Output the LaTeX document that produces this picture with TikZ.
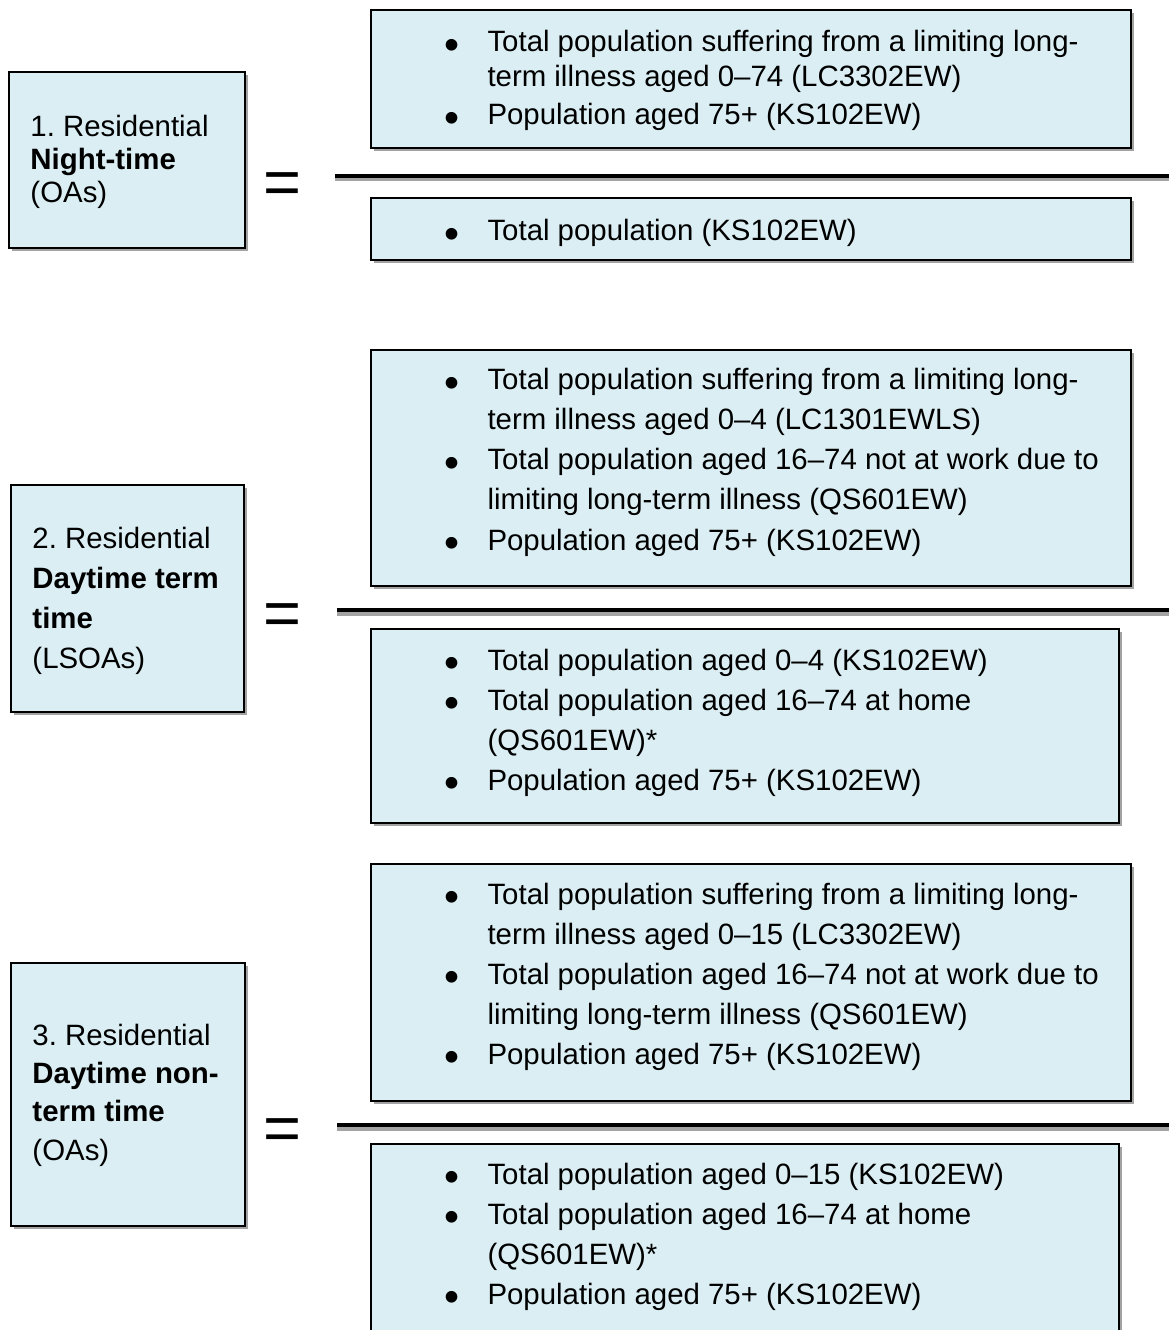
\documentclass[tikz,border=0pt]{standalone}
\usepackage{fontspec}
\setmainfont{Liberation Sans}
\usetikzlibrary{shadows,fit}
\definecolor{boxfill}{HTML}{DAEEF3}
\definecolor{shadowgray}{HTML}{A3A3A3}
\newcommand\bul{\raisebox{-2.9pt}{\scalebox{1.46}{\textbullet}}}
\frenchspacing
\begin{document}
\begin{tikzpicture}[x=0.4pt,y=-0.4pt,
  panel/.style={draw=black, line width=0.8pt, fill=boxfill, inner sep=0pt,
     general shadow={fill=shadowgray, shadow xshift=1.2pt, shadow yshift=-1.2pt}},
  lefttext/.style={anchor=base west, inner sep=0pt, align=left},
  item/.style={anchor=base west, inner sep=0pt, font=\fontsize{11.76}{16}\selectfont},
  rulesh/.style={line width=1.6pt, shadowgray},
  rulebk/.style={line width=1.6pt, black},
  eqsign/.style={anchor=base, inner sep=0pt, font=\fontsize{26}{26}\selectfont}
]
\useasboundingbox (0,0) rectangle (1169,1330);
\clip (0,0) rectangle (1169,1330);

% ---------- left boxes ----------
\node[panel, fit={(9,72)(245,248)}] (L1) {};
\node[panel, fit={(11,485)(244,712)}] (L2) {};
\node[panel, fit={(11,963)(245,1226)}] (L3) {};
% (anchor = baseline of the last line)
\node[lefttext, font=\fontsize{11.76}{13.2}\selectfont] (L1t) at (30,203)
  {1. Residential\\\textbf{Night-time}\\(OAs)};
\node[lefttext, font=\fontsize{11.76}{15.9}\selectfont] (L2t) at (32,668)
  {2. Residential\\\textbf{Daytime term}\\\textbf{time}\\(LSOAs)};
\node[lefttext, font=\fontsize{11.76}{15.3}\selectfont] (L3t) at (32,1160)
  {3. Residential\\\textbf{Daytime non-}\\\textbf{term time}\\(OAs)};

% ---------- equal signs ----------
\node[eqsign] (E1) at (282,205) {=};
\node[eqsign] (E2) at (282,635) {=};
\node[eqsign] (E3) at (282,1150) {=};

% ---------- fraction bars ----------
\coordinate (F1a) at (335,176); \coordinate (F1b) at (1169,176);
\coordinate (F2a) at (337,610); \coordinate (F2b) at (1169,610);
\coordinate (F3a) at (337,1125); \coordinate (F3b) at (1169,1125);
\draw[rulesh] ([yshift=-1.4pt]F1a) -- ([yshift=-1.4pt]F1b);
\draw[rulebk] (F1a) -- (F1b);
\draw[rulesh] ([yshift=-1.4pt]F2a) -- ([yshift=-1.4pt]F2b);
\draw[rulebk] (F2a) -- (F2b);
\draw[rulesh] ([yshift=-1.4pt]F3a) -- ([yshift=-1.4pt]F3b);
\draw[rulebk] (F3a) -- (F3b);

% ---------- right boxes ----------
\node[panel, fit={(371,10)(1131,148)}] (N1) {};
\node[panel, fit={(371,198)(1131,260)}] (D1) {};
\node[panel, fit={(371,350)(1131,586)}] (N2) {};
\node[panel, fit={(371,629)(1119,823)}] (D2) {};
\node[panel, fit={(371,864)(1131,1101)}] (N3) {};
\node[panel, fit={(371,1144)(1119,1345)}] (D3) {};

% ---------- items: row 1 ----------
\node[item, font=\fontsize{11.76}{14}\selectfont] (n1a) at (444,52)
  {\begin{tabular}[t]{@{}p{17.2pt}@{}l@{}}\bul & Total population suffering from a limiting long-\\ & term illness aged 0–74 (LC3302EW)\end{tabular}};
\node[item] (n1b) at (444,125)
  {\begin{tabular}[t]{@{}p{17.2pt}@{}l@{}}\bul & Population aged 75+ (KS102EW)\end{tabular}};
\node[item] (d1a) at (444,241)
  {\begin{tabular}[t]{@{}p{17.2pt}@{}l@{}}\bul & Total population (KS102EW)\end{tabular}};

% ---------- items: row 2 ----------
\node[item] (n2a) at (444,390)
  {\begin{tabular}[t]{@{}p{17.2pt}@{}l@{}}\bul & Total population suffering from a limiting long-\\ & term illness aged 0–4 (LC1301EWLS)\end{tabular}};
\node[item] (n2b) at (444,470)
  {\begin{tabular}[t]{@{}p{17.2pt}@{}l@{}}\bul & Total population aged 16–74 not at work due to\\ & limiting long-term illness (QS601EW)\end{tabular}};
\node[item] (n2c) at (444,550)
  {\begin{tabular}[t]{@{}p{17.2pt}@{}l@{}}\bul & Population aged 75+ (KS102EW)\end{tabular}};
\node[item] (d2a) at (444,670)
  {\begin{tabular}[t]{@{}p{17.2pt}@{}l@{}}\bul & Total population aged 0–4 (KS102EW)\end{tabular}};
\node[item] (d2b) at (444,710)
  {\begin{tabular}[t]{@{}p{17.2pt}@{}l@{}}\bul & Total population aged 16–74 at home\\ & (QS601EW)*\end{tabular}};
\node[item] (d2c) at (444,790)
  {\begin{tabular}[t]{@{}p{17.2pt}@{}l@{}}\bul & Population aged 75+ (KS102EW)\end{tabular}};

% ---------- items: row 3 ----------
\node[item] (n3a) at (444,904)
  {\begin{tabular}[t]{@{}p{17.2pt}@{}l@{}}\bul & Total population suffering from a limiting long-\\ & term illness aged 0–15 (LC3302EW)\end{tabular}};
\node[item] (n3b) at (444,984)
  {\begin{tabular}[t]{@{}p{17.2pt}@{}l@{}}\bul & Total population aged 16–74 not at work due to\\ & limiting long-term illness (QS601EW)\end{tabular}};
\node[item] (n3c) at (444,1064)
  {\begin{tabular}[t]{@{}p{17.2pt}@{}l@{}}\bul & Population aged 75+ (KS102EW)\end{tabular}};
\node[item] (d3a) at (444,1184)
  {\begin{tabular}[t]{@{}p{17.2pt}@{}l@{}}\bul & Total population aged 0–15 (KS102EW)\end{tabular}};
\node[item] (d3b) at (444,1224)
  {\begin{tabular}[t]{@{}p{17.2pt}@{}l@{}}\bul & Total population aged 16–74 at home\\ & (QS601EW)*\end{tabular}};
\node[item] (d3c) at (444,1304)
  {\begin{tabular}[t]{@{}p{17.2pt}@{}l@{}}\bul & Population aged 75+ (KS102EW)\end{tabular}};
\end{tikzpicture}
\end{document}
